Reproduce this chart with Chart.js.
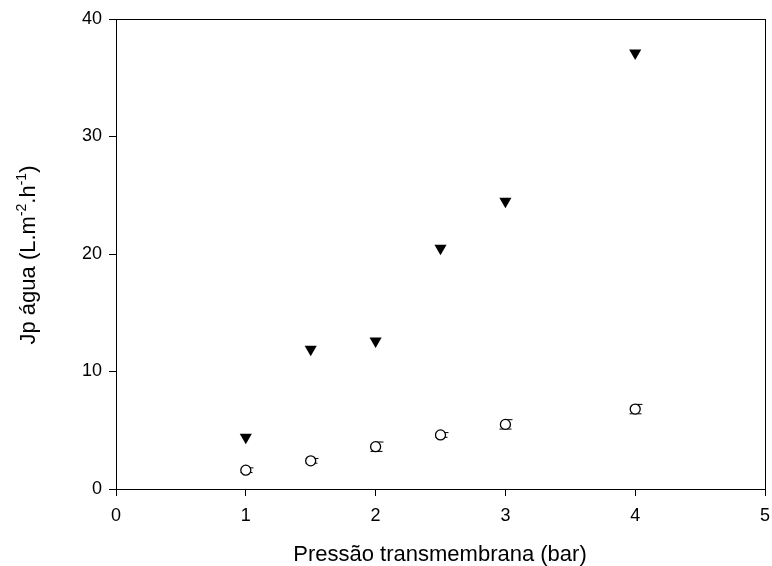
<!DOCTYPE html>
<html>
<head>
<meta charset="utf-8">
<script src="https://cdn.jsdelivr.net/npm/chart.js@4/dist/chart.umd.min.js"></script>
<style>
  html, body { margin: 0; padding: 0; background: #fff; }
  #wrap { width: 772px; height: 566px; }
</style>
</head>
<body>
<div id="wrap"><canvas id="fluxChart" width="772" height="566"></canvas></div>
<script>
// transmembrane pressure (bar)
const pressure = [1, 1.5, 2, 2.5, 3, 4];
// water flux, upper series (filled triangles)
const fluxTriangle = [4.4, 11.9, 12.6, 20.5, 24.5, 37.1];
// water flux, lower series (open circles) and its error
const fluxCircle = [1.6, 2.4, 3.6, 4.6, 5.5, 6.8];
const fluxCircleErr = [0.2, 0.2, 0.4, 0.2, 0.4, 0.4];

const xTicks = [0, 1, 2, 3, 4, 5];
const yTicks = [0, 10, 20, 30, 40];

const font = "'Liberation Sans', Arial, sans-serif";

// frame around the plot area
const frame = {
    id: 'frame',
    afterDraw(chart) {
        const { ctx, chartArea: a } = chart;
        ctx.save();
        ctx.strokeStyle = '#000';
        ctx.lineWidth = 1;
        ctx.strokeRect(a.left + 0.5, a.top + 0.5, a.right - a.left, a.bottom - a.top);
        ctx.restore();
    }
};

// error bars for the circle series, drawn under the markers
const errorBars = {
    id: 'errorBars',
    beforeDatasetsDraw(chart) {
        const { ctx, scales: { x, y } } = chart;
        ctx.save();
        ctx.strokeStyle = '#000';
        ctx.lineWidth = 1;
        pressure.forEach((p, i) => {
            const px = Math.round(x.getPixelForValue(p)) + 0.5;
            const hi = y.getPixelForValue(fluxCircle[i] + fluxCircleErr[i]);
            const lo = y.getPixelForValue(fluxCircle[i] - fluxCircleErr[i]);
            ctx.beginPath();
            ctx.moveTo(px, hi); ctx.lineTo(px, lo);
            ctx.moveTo(px - 6, lo); ctx.lineTo(px + 6, lo);
            ctx.moveTo(px, hi); ctx.lineTo(px + 7, hi);
            ctx.stroke();
        });
        ctx.restore();
    }
};

// axis titles, the y title needs superscripts
const titles = {
    id: 'titles',
    afterDraw(chart) {
        const { ctx } = chart;
        ctx.save();
        ctx.fillStyle = '#000';
        ctx.textBaseline = 'alphabetic';

        ctx.font = `22px ${font}`;
        ctx.textAlign = 'center';
        ctx.fillText('Pressão transmembrana (bar)', 440, 561);

        const parts = [
            ['Jp água (L.m', false], ['-2', true], ['.h', false], ['-1', true], [')', false]
        ];
        const big = `22px ${font}`, small = `14px ${font}`;
        let total = 0;
        parts.forEach(([t, sup]) => { ctx.font = sup ? small : big; total += ctx.measureText(t).width; });
        ctx.translate(35, 255);
        ctx.rotate(-Math.PI / 2);
        ctx.textAlign = 'left';
        let cx = -total / 2;
        parts.forEach(([t, sup]) => {
            ctx.font = sup ? small : big;
            ctx.fillText(t, cx, sup ? -9 : 0);
            cx += ctx.measureText(t).width;
        });
        ctx.restore();
    }
};

new Chart(document.getElementById('fluxChart'), {
    type: 'scatter',
    data: {
        datasets: [
            {
                label: 'triângulos',
                data: pressure.map((p, i) => ({ x: p, y: fluxTriangle[i] })),
                pointStyle: 'triangle',
                rotation: 180,
                radius: 7,
                backgroundColor: '#000',
                borderColor: '#000',
                borderWidth: 0
            },
            {
                label: 'círculos',
                data: pressure.map((p, i) => ({ x: p, y: fluxCircle[i] })),
                pointStyle: 'circle',
                radius: 5,
                backgroundColor: '#fff',
                borderColor: '#000',
                borderWidth: 1.3
            }
        ]
    },
    options: {
        responsive: false,
        animation: false,
        layout: { padding: { top: 19, right: 6, left: 0, bottom: 0 } },
        plugins: {
            legend: { display: false },
            tooltip: { enabled: false }
        },
        scales: {
            x: {
                type: 'linear',
                min: 0, max: 5,
                afterBuildTicks: s => { s.ticks = xTicks.map(v => ({ value: v })); },
                afterFit: s => { s.height = 77; s.paddingLeft = 0; s.paddingRight = 0; },
                grid: { drawOnChartArea: false, tickLength: 7, color: '#000' },
                border: { color: '#000', width: 1 },
                ticks: { color: '#000', font: { family: font, size: 18 }, padding: 9 }
            },
            y: {
                type: 'linear',
                min: 0, max: 40,
                afterBuildTicks: s => { s.ticks = yTicks.map(v => ({ value: v })); },
                afterFit: s => { s.width = 116; s.paddingTop = 0; s.paddingBottom = 0; },
                grid: { drawOnChartArea: false, tickLength: 7, color: '#000' },
                border: { color: '#000', width: 1 },
                ticks: { color: '#000', font: { family: font, size: 18 }, padding: 7 }
            }
        }
    },
    plugins: [errorBars, frame, titles]
});
</script>
</body>
</html>
